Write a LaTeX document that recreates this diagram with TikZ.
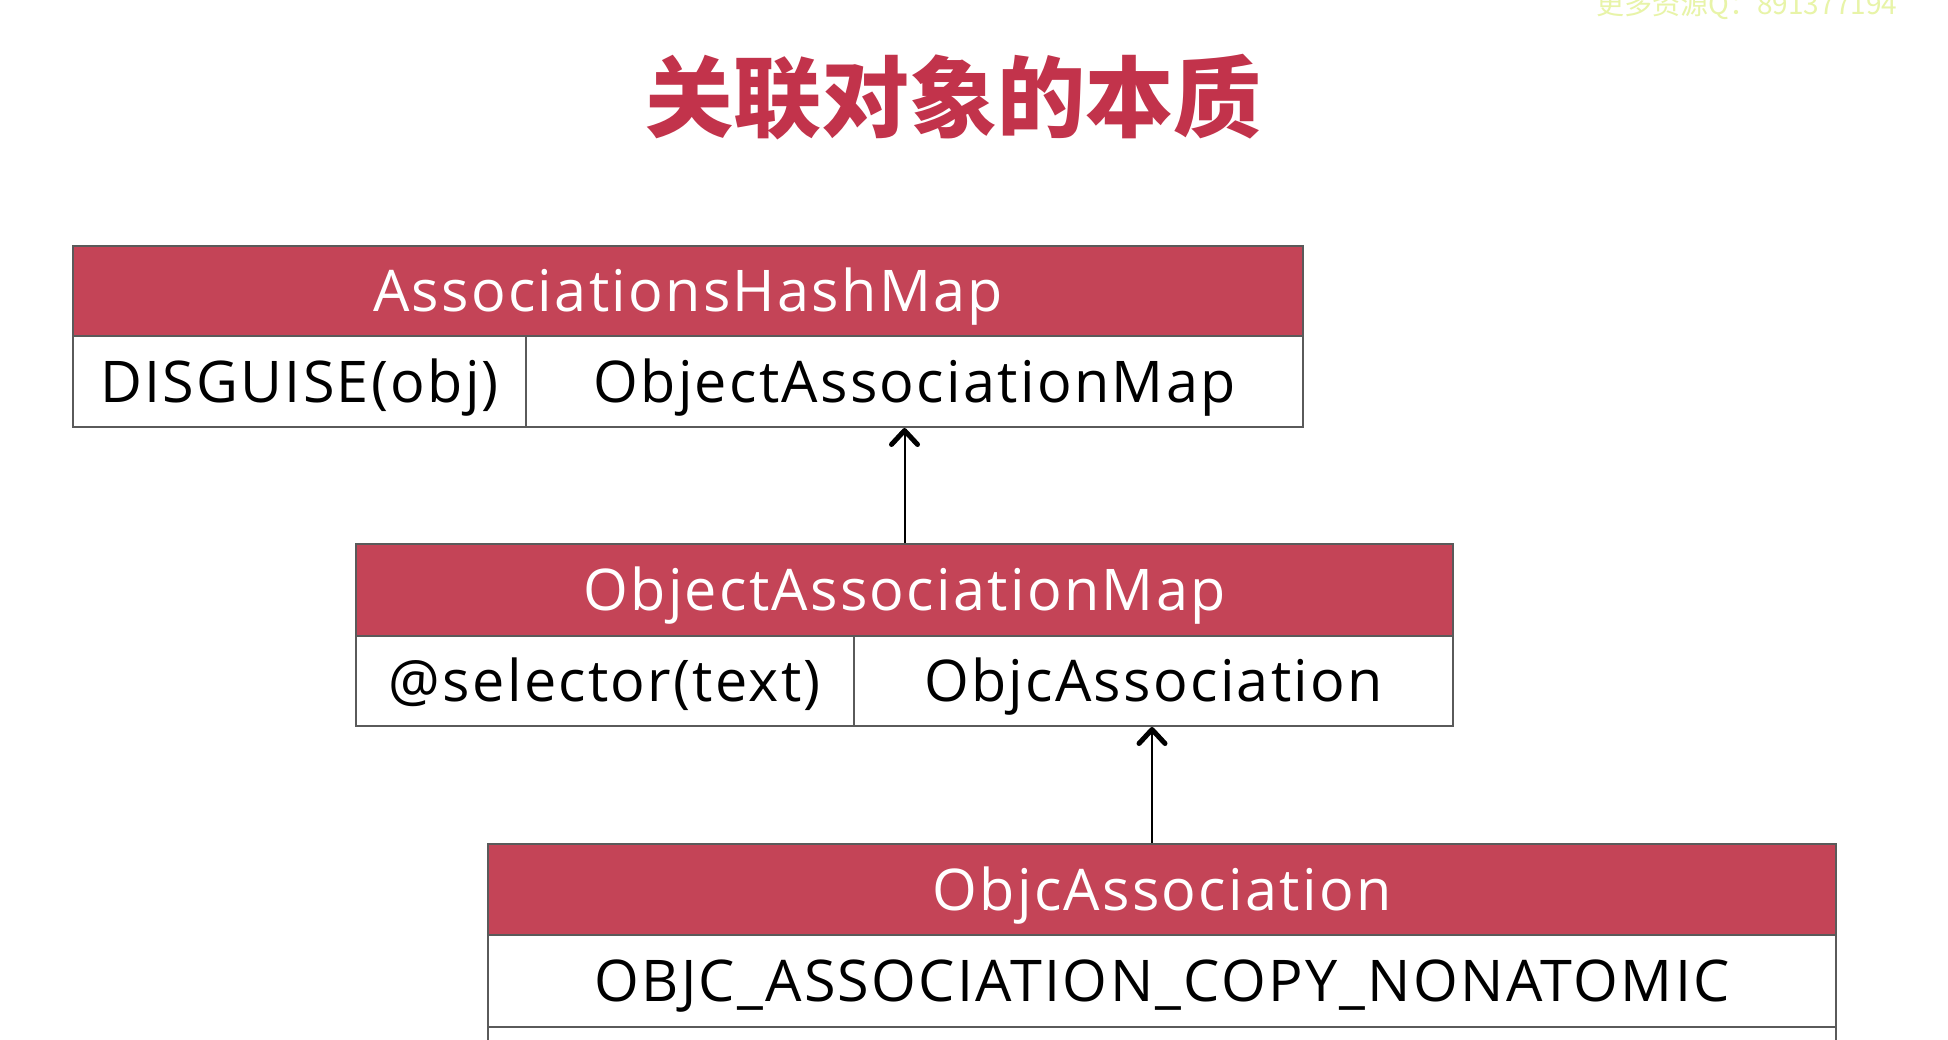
\documentclass[tikz,border=0pt]{standalone}
\usepackage{fontspec}
\setmainfont{Open Sans}[LetterSpace=4]
\newfontfamily\cjk{Noto Sans CJK SC}
\usetikzlibrary{arrows.meta}
\definecolor{hdr}{HTML}{C44457}
\definecolor{ttl}{HTML}{C2334B}
\definecolor{bdr}{HTML}{5A5A5A}
\definecolor{wm}{HTML}{E8F4A8}
\tikzset{
  cell/.style={draw=bdr, line width=2pt, fill=white, inner sep=0pt, font=\fontsize{57.5}{64}\selectfont, text height=41pt, text depth=0pt, anchor=north west},
  hcell/.style={cell, fill=hdr, text=white},
  arr/.style={line width=2pt, draw=black, -{Straight Barb[length=14pt,width=26pt,line width=5pt,round]}}
}
\begin{document}
\begin{tikzpicture}[x=1pt,y=-1pt]
\useasboundingbox (0,0) rectangle (1948,1040);
\begin{scope}
\clip (0,0) rectangle (1948,1040);
\fill[white] (0,0) rectangle (1948,1040);
\node[text=wm, font=\cjk\fontsize{28}{30}\selectfont, anchor=base west] (wmk) at (1593,15) {更多资源Q：891377194};
\node[text=ttl, font=\cjk\bfseries\fontsize{88}{96}\selectfont] (title) at (953,97) {关联对象的本质};
% box 1
\node[hcell, minimum width=1230pt, minimum height=90pt] (h1) at (72,245) {AssociationsHashMap};
\node[cell, minimum width=453pt, minimum height=91pt] (c1a) at (72,335) {DISGUISE(obj)};
\node[cell, minimum width=777pt, minimum height=91pt] (c1b) at (525,335) {ObjectAssociationMap};
% box 2
\node[hcell, minimum width=1097pt, minimum height=92pt] (h2) at (355,543) {ObjectAssociationMap};
\node[cell, minimum width=498pt, minimum height=90pt] (c2a) at (355,635) {@selector(text)};
\node[cell, minimum width=599pt, minimum height=90pt] (c2b) at (853,635) {ObjcAssociation};
% box 3
\node[hcell, minimum width=1348pt, minimum height=91pt] (h3) at (487,843) {ObjcAssociation};
\node[cell, minimum width=1348pt, minimum height=92pt] (c3a) at (487,934) {OBJC\_ASSOCIATION\_COPY\_NONATOMIC};
\node[cell, minimum width=1348pt, minimum height=90pt] (c3b) at (487,1026) {};
% arrows
\coordinate (a2) at (1152,843);
\draw[arr] (h2.north) -- (h2.north |- c1b.south);
\draw[arr] (a2) -- (a2 |- c2b.south);
\end{scope}
\end{tikzpicture}
\end{document}
